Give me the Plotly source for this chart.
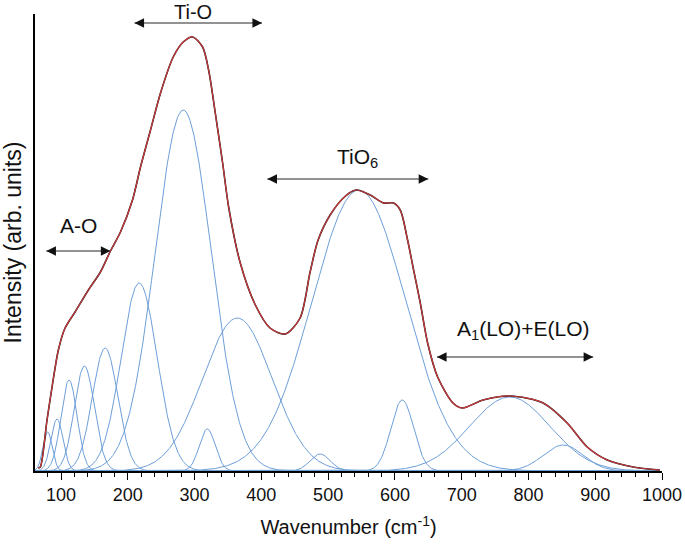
import numpy as np
import plotly.graph_objects as go

spec_wn = [66, 69, 79, 87, 96, 106, 121, 141, 159, 174, 189, 207, 219, 234, 249, 268, 283, 297,
           312, 321, 331, 342, 351, 368, 391, 413, 436, 458, 473, 485, 503, 526, 542, 563, 583,
           598, 608, 619, 628, 638, 649, 664, 687, 701, 732, 773, 822, 858, 888, 918, 957, 997]
spec_int = [3, 4, 51, 86, 121, 143, 159, 181, 199, 220, 239, 271, 304, 341, 378, 414, 429, 434,
            424, 401, 358, 308, 264, 209, 166, 143, 137, 153, 199, 231, 256, 275, 281, 276, 268,
            268, 261, 231, 201, 168, 128, 94, 68, 63, 71, 75, 68, 48, 24, 11, 4, 1]

# Fitted components: centre (cm-1), height (arb.), width sigma (cm-1)
peak_centers = [80, 94, 112, 135, 166, 217, 283, 319, 364, 488, 546, 611, 772, 852]
peak_heights = [39, 52, 91, 105, 123, 188, 361, 42, 153, 17, 281, 71, 74, 26]
peak_sigmas = [7, 9, 12, 15, 19, 27, 42, 12, 52, 15, 70, 17, 60, 30]

x_start, x_end = 61, 1000
tick_values = [100, 200, 300, 400, 500, 600, 700, 800, 900, 1000]
tick_labels = ["100", "200", "300", "400", "500", "600", "700", "800", "900", "1000"]

band_labels = ["A-O", "Ti-O", "TiO<sub>6</sub>", "A<sub>1</sub>(LO)+E(LO)"]
band_from = [78, 210, 409, 663]
band_to = [174, 401, 650, 897]
band_arrow_y = [220, 448, 292, 114]
band_text_x = [126, 298, 544, 792]
band_text_y = [246, 459, 313, 141]
band_text_size = [21, 20, 21, 21]

Y_MAX = 457

wn = np.linspace(x_start, 995, 1200)
components = [h * np.exp(-((wn - c) ** 2) / (2 * s ** 2))
              for c, h, s in zip(peak_centers, peak_heights, peak_sigmas)]

fig = go.Figure()
for comp in components:
    fig.add_trace(go.Scatter(x=wn, y=comp, mode="lines",
                             line=dict(color="#6d9fd8", width=1), hoverinfo="skip"))
fig.add_trace(go.Scatter(x=spec_wn, y=spec_int, mode="lines",
                         line=dict(color="#1a1a1a", width=1.6, shape="spline", smoothing=0.8),
                         hoverinfo="skip"))
fig.add_trace(go.Scatter(x=spec_wn, y=spec_int, mode="lines",
                         line=dict(color="#c9383b", width=1.2, shape="spline", smoothing=0.8),
                         hoverinfo="skip"))

for lab, a, b, ay, tx, ty, fs in zip(band_labels, band_from, band_to, band_arrow_y,
                                     band_text_x, band_text_y, band_text_size):
    fig.add_shape(type="line", x0=a, x1=b, y0=ay, y1=ay, xref="x", yref="y",
                  line=dict(color="#6e6e6e", width=1.5))
    for tip, off in ((b, -10), (a, 10)):
        fig.add_annotation(x=tip, y=ay, xref="x", yref="y", ax=off, ay=0,
                           text="", showarrow=True, arrowhead=2, arrowsize=1.2,
                           arrowwidth=1.6, arrowcolor="#111111")
    fig.add_annotation(x=tx, y=ty / Y_MAX, xref="x", yref="paper", text=lab, showarrow=False,
                       xanchor="center", yanchor="middle",
                       font=dict(family="Liberation Sans, Arial", size=fs, color="#111111"))

fig.update_layout(
    width=685, height=545,
    margin=dict(l=35, r=23, t=14, b=74),
    paper_bgcolor="white", plot_bgcolor="white",
    showlegend=False,
    font=dict(family="Liberation Sans, Arial", color="#111111"),
)
fig.update_xaxes(range=[x_start, x_end], showline=True, linecolor="black", linewidth=1.5,
                 showgrid=False, zeroline=False, ticks="outside", ticklen=7, tickwidth=1.2,
                 tickcolor="black", tickvals=tick_values, ticktext=tick_labels,
                 tickfont=dict(size=18), automargin=False,
                 minor=dict(ticks="outside", ticklen=4, tickwidth=1, tickcolor="black", dtick=20,
                            tick0=0, showgrid=False),
                 title=dict(text="Wavenumber (cm<sup>-1</sup>)", font=dict(size=20), standoff=16))
fig.update_yaxes(range=[0, Y_MAX], showline=True, linecolor="black", linewidth=1.5,
                 showgrid=False, zeroline=False, showticklabels=False, ticks="", automargin=False,
                 title=dict(text="Intensity (arb. units)", font=dict(size=23), standoff=10))

# remove the default page margin so the figure sits at the window's top-left corner
fig.write_html("out.html", config={"displayModeBar": False},
               post_script="document.body.style.margin='0';")
